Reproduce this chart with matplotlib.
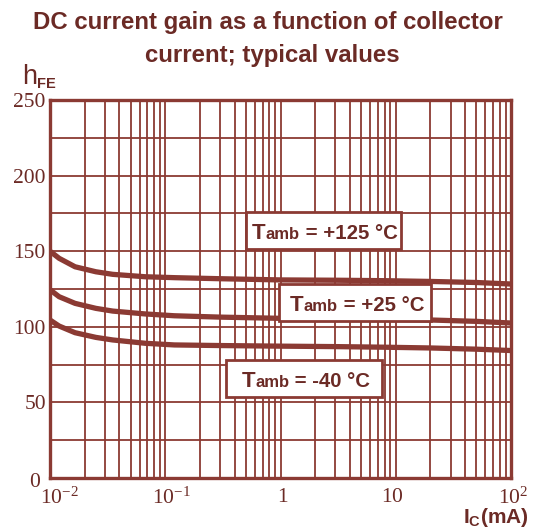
import matplotlib
matplotlib.use("Agg")
import matplotlib.pyplot as plt
import matplotlib.transforms as mtransforms
from matplotlib.ticker import LogLocator, FixedLocator, NullFormatter
from matplotlib.offsetbox import TextArea, HPacker, DrawingArea, AnnotationBbox

line_col = "#8b3a33"
text_col = "#6b2a25"

plt.rcParams["mathtext.fontset"] = "custom"
plt.rcParams["mathtext.rm"] = "Liberation Serif"
plt.rcParams["mathtext.it"] = "Liberation Serif:italic"
plt.rcParams["mathtext.bf"] = "Liberation Sans:bold"
plt.rcParams["mathtext.sf"] = "Liberation Sans"

# collector current (mA) and hFE per temperature
ic = [0.01, 0.012, 0.0165, 0.025, 0.035, 0.067, 0.12, 0.3, 1, 3, 8, 20, 50, 100]
hfe_125 = [150, 145.3, 139.7, 136.4, 134.7, 133.1, 132.5, 131.8, 131, 130.8, 130.5, 130, 129.3, 128.3]
hfe_25 = [124.5, 119.9, 115.5, 112.2, 110.4, 108.5, 107.3, 106.4, 105.6, 105.3, 105, 104.5, 103.6, 102.5]
hfe_m40 = [104.5, 100.5, 96.1, 93, 91.3, 89.1, 88, 87.6, 87.2, 86.9, 86.5, 86, 85.2, 84.3]

labels = ["+125", "+25", "-40"]
label_pos = [(2.36, 163.4), (4.44, 116.1), (1.61, 65.8)]
box_gap = [(4.3, 2.2), (7.9, 5.0), (10.8, 8.6)]  # left/right inner gap, points

xticks = [0.01, 0.1, 1, 10, 100]
xticklabels = [r"$\mathrm{10^{-2}}$", r"$\mathrm{10^{-1}}$", r"$\mathrm{1}$",
               r"$\mathrm{10}$", r"$\mathrm{10^{2}}$"]
xlabel_shift = [9, 6, 2, -3, 2]  # pixels
yticks = [0, 50, 100, 150, 200, 250]

fig = plt.figure(figsize=(5.39, 5.30), dpi=100)
ax = fig.add_axes([50 / 539, 52 / 530, 461 / 539, 378 / 530])

for h in [hfe_125, hfe_25, hfe_m40]:
    ax.plot(ic, h, color=line_col, lw=3.8, solid_capstyle="butt", zorder=3)

ax.set_xscale("log")
ax.set_xlim(0.01, 100)
ax.set_ylim(0, 250)
ax.xaxis.set_major_locator(FixedLocator(xticks))
ax.xaxis.set_minor_locator(LogLocator(base=10, subs=range(2, 10)))
ax.xaxis.set_minor_formatter(NullFormatter())
ax.set_xticks(xticks)
ax.set_xticklabels(xticklabels)
ax.set_yticks(yticks)
ax.set_yticks(range(0, 251, 25), minor=True)
ax.set_yticklabels([str(v) for v in yticks], family="Liberation Serif")
ax.tick_params(which="both", length=0, labelsize=15.5, colors=text_col)
ax.tick_params(axis="x", pad=6)
ax.tick_params(axis="y", pad=3)
ax.grid(True, which="both", color=line_col, lw=1.3)
for s in ax.spines.values():
    s.set_color(line_col)
    s.set_linewidth(2.4)

for lbl, dx in zip(ax.get_xticklabels(), xlabel_shift):
    lbl.set_transform(lbl.get_transform() +
                      mtransforms.ScaledTranslation(dx / 100, 0, fig.dpi_scale_trans))
ylab0 = ax.get_yticklabels()[0]
ylab0.set_transform(ylab0.get_transform() +
                    mtransforms.ScaledTranslation(-6 / 100, -2 / 100, fig.dpi_scale_trans))

for lab, (x, y), (gl, gr) in zip(labels, label_pos, box_gap):
    tp = dict(weight="bold", color=text_col, family="Liberation Sans")
    parts = [
        DrawingArea(gl, 26.6, 0, 7.2),
        TextArea("T", textprops=dict(size=16, **tp)),
        TextArea("amb", textprops=dict(size=12, **tp)),
        TextArea(" = " + lab + " \u00b0C", textprops=dict(size=14.7, **tp)),
        DrawingArea(gr, 26.6, 0, 7.2),
    ]
    pack = HPacker(children=parts, align="baseline", pad=0, sep=0)
    ab = AnnotationBbox(pack, (x, y), xycoords="data", frameon=True, pad=0,
                        bboxprops=dict(edgecolor=line_col, lw=2, facecolor="white"),
                        zorder=5)
    ax.add_artist(ab)

title_kw = dict(ha="center", va="baseline", fontsize=17.3, weight="bold",
                color=text_col, family="Liberation Sans")
fig.text(268 / 539, 1 - 29.3 / 530, "DC current gain as a function of collector", **title_kw)
fig.text(272 / 539, 1 - 62 / 530, "current; typical values", **title_kw)

fig.text(22 / 539, 1 - 84.5 / 530, "h", fontsize=19.5, color=text_col,
         family="Liberation Sans", ha="left", va="baseline")
fig.text(36.5 / 539, 1 - 88 / 530, "FE", fontsize=10.5, weight="bold", color=text_col,
         family="Liberation Sans", ha="left", va="baseline")
fig.text(1 - 10 / 539, 1 - 523 / 530, r"$\mathbf{I_{C}(mA)}$", fontsize=15,
         color=text_col, ha="right", va="baseline")

fig.savefig("out.png", dpi=100)
